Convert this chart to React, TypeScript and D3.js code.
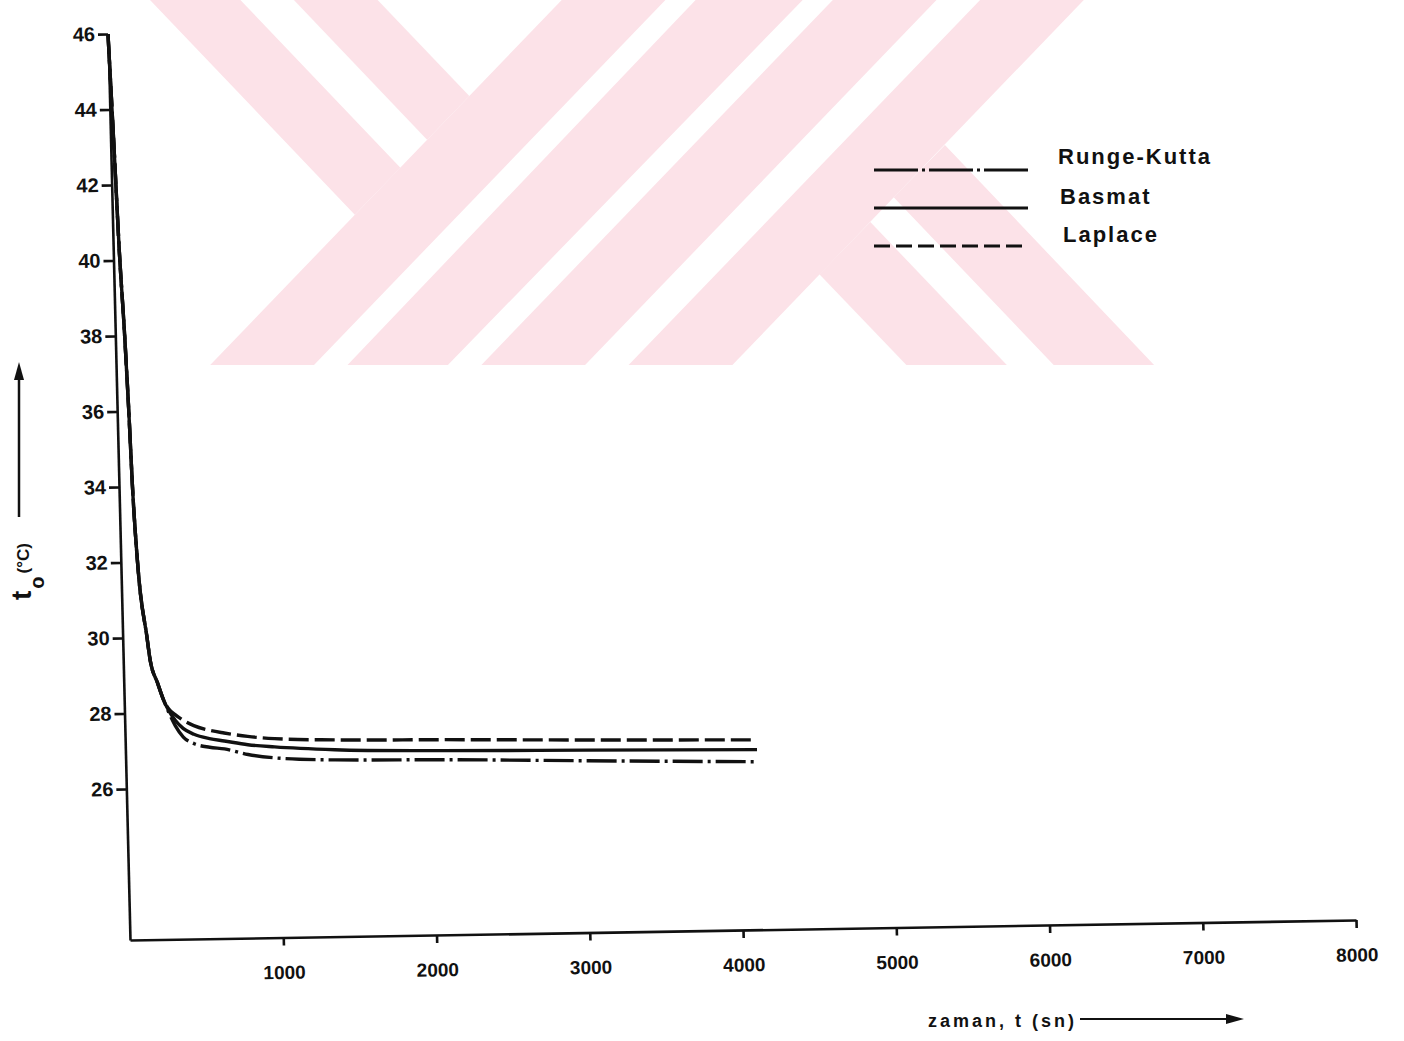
import React, { useEffect, useRef } from "react";
import * as d3 from "d3";

// ---- data ----
const times = [0, 20, 39, 61, 76, 88, 109, 159, 176, 220, 258, 290, 330, 380, 450, 550, 647, 800, 974, 1366, 2065, 3000, 4120];
const rungeKutta = [46, 43.2, 40.3, 38, 36, 34, 32, 30, 29.4, 28.8, 28.33, 28.0, 27.65, 27.35, 27.17, 27.07, 27.02, 26.86, 26.76, 26.68, 26.64, 26.55, 26.45];
const basmat = [46, 43.2, 40.3, 38, 36, 34, 32, 30, 29.4, 28.8, 28.33, 28.05, 27.8, 27.58, 27.42, 27.3, 27.23, 27.12, 27.05, 26.95, 26.88, 26.83, 26.77];
const laplace = [46, 43.2, 40.3, 38, 36, 34, 32, 30, 29.4, 28.8, 28.33, 28.1, 27.95, 27.8, 27.65, 27.52, 27.44, 27.34, 27.27, 27.21, 27.17, 27.1, 27.03];
const seriesNames = ["Runge-Kutta", "Basmat", "Laplace"];
const yTicks = [26, 28, 30, 32, 34, 36, 38, 40, 42, 44, 46];
const xTicks = [1000, 2000, 3000, 4000, 5000, 6000, 7000, 8000];
const xDomain = [0, 8000];
const yDomain = [22, 46];
const xTitle = "zaman, t (sn)";

// decorative background watermark (pale stripes of the scanned page)
const watermarkBands: number[][][] = [
  [[150, 0], [240.4, 0], [400.4, 167.7], [354.8, 214.7]],
  [[293.9, 0], [377.6, 0], [469.3, 96], [427.1, 139.7]],
  [[210.2, 365], [314, 365], [665.4, 0], [561.7, 0]],
  [[347.5, 365], [447.9, 365], [802.7, 0], [695.6, 0]],
  [[481.4, 365], [585.1, 365], [936.5, 0], [832.8, 0]],
  [[628.6, 365], [732.4, 365], [1083.8, 0], [980.1, 0]],
  [[906.4, 365], [1006.8, 365], [870.3, 222], [819.4, 274.3]],
  [[1053.7, 365], [1154.1, 365], [944.9, 145], [893.7, 197.3]],
];

const FONT = "'Liberation Sans', Arial, sans-serif";
const INK = "#111";

export default function App() {
  const ref = useRef<SVGSVGElement>(null);

  useEffect(() => {
    const svg = d3.select(ref.current);
    svg.selectAll("*").remove();
    const W = 1404, H = 1041;
    svg.append("rect").attr("width", W).attr("height", H).attr("fill", "#fff");

    const wm = svg.append("g");
    watermarkBands.forEach((p) =>
      wm.append("polygon").attr("points", p.map((q) => q.join(",")).join(" ")).attr("fill", "#fce2e8")
    );

    const plotW = 1226, plotH = 906;
    const x = d3.scaleLinear().domain(xDomain).range([0, plotW]);
    const y = d3.scaleLinear().domain(yDomain).range([0, -plotH]);

    // slightly skewed frame, like the scanned page
    const g = svg.append("g").attr("transform", "matrix(1,-0.0163,0.0243,1,130,940)");

    const yAxis = g.append("g").call(
      d3.axisLeft(y).tickValues(yTicks).tickSize(10).tickPadding(3).tickSizeOuter(0).tickFormat(d3.format("d"))
    );
    const xAxis = g.append("g").call(
      d3.axisBottom(x).tickValues(xTicks).tickSize(8).tickPadding(20).tickSizeOuter(0).tickFormat(d3.format("d"))
    );
    [yAxis, xAxis].forEach((a) => {
      a.attr("font-family", FONT).attr("font-weight", "bold");
      a.selectAll("path,line").attr("stroke", INK).attr("stroke-width", 2.6);
      a.selectAll("text").attr("fill", INK);
    });
    yAxis.attr("font-size", 20);
    xAxis.attr("font-size", 19);

    const series = [
      { name: seriesNames[0], values: rungeKutta, dash: "30,5,3,5" },
      { name: seriesNames[1], values: basmat, dash: null },
      { name: seriesNames[2], values: laplace, dash: "20,6" },
    ];
    const line = d3
      .line<[number, number]>()
      .x((d) => x(d[0]))
      .y((d) => y(d[1]))
      .curve(d3.curveMonotoneX);

    series.forEach((s) => {
      const pts = times.map((t, i) => [t, s.values[i]] as [number, number]);
      const p = g
        .append("path")
        .attr("d", line(pts))
        .attr("fill", "none")
        .attr("stroke", INK)
        .attr("stroke-width", 3.4)
        .attr("stroke-linejoin", "round");
      if (s.dash) p.attr("stroke-dasharray", s.dash);
    });

    // legend
    const legY = [170, 208, 246];
    const legTextY = [164, 204, 242];
    const legTextX = [1058, 1060, 1063];
    series.forEach((s, i) => {
      const l = svg
        .append("line")
        .attr("x1", 874)
        .attr("x2", 1028)
        .attr("y1", legY[i])
        .attr("y2", legY[i])
        .attr("stroke", INK)
        .attr("stroke-width", 3);
      if (s.dash) l.attr("stroke-dasharray", s.dash === "20,6" ? "16,6" : "44,4,3,4");
      svg
        .append("text")
        .attr("x", legTextX[i])
        .attr("y", legTextY[i])
        .attr("font-family", FONT)
        .attr("font-weight", "bold")
        .attr("font-size", 22)
        .attr("letter-spacing", 2)
        .attr("fill", INK)
        .text(s.name);
    });

    // x title + arrow
    svg
      .append("text")
      .attr("x", 928)
      .attr("y", 1027)
      .attr("font-family", FONT)
      .attr("font-weight", "bold")
      .attr("font-size", 18)
      .attr("letter-spacing", 3)
      .attr("fill", INK)
      .text(xTitle);
    svg.append("line").attr("x1", 1080).attr("x2", 1230).attr("y1", 1019).attr("y2", 1019).attr("stroke", INK).attr("stroke-width", 2);
    svg.append("polygon").attr("points", "1226,1014 1244,1019 1226,1024").attr("fill", INK);

    // y title + arrow
    const yt = svg
      .append("text")
      .attr("transform", "translate(31,600) rotate(-90)")
      .attr("font-family", FONT)
      .attr("font-weight", "bold")
      .attr("fill", INK);
    yt.append("tspan").attr("font-size", 28).text("t");
    yt.append("tspan").attr("font-size", 20).attr("dx", 2).attr("dy", 13).text("o");
    yt.append("tspan").attr("font-size", 17).attr("dx", 3).attr("dy", -15).text("(°C)");
    svg.append("line").attr("x1", 19).attr("x2", 19).attr("y1", 517).attr("y2", 376).attr("stroke", INK).attr("stroke-width", 2.5);
    svg.append("polygon").attr("points", "14,380 19,362 24,380").attr("fill", INK);
  }, []);

  return (
    <svg
      ref={ref}
      width={1404}
      height={1041}
      style={{ position: "absolute", left: 0, top: 0, display: "block" }}
    />
  );
}
